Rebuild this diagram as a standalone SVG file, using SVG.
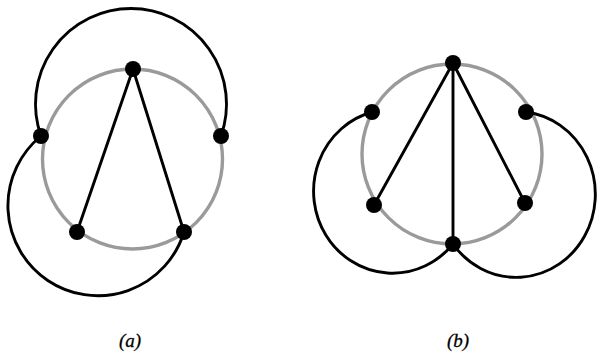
<svg xmlns="http://www.w3.org/2000/svg" width="600" height="359" viewBox="0 0 600 359">
<style>
.ring{fill:none;stroke:#9a9a9a;stroke-width:3.4}
.edge{fill:none;stroke:#000;stroke-width:2.9;stroke-linecap:round}
.node{fill:#000}
.lbl{font-family:"Liberation Serif",serif;font-style:italic;font-size:19px;fill:#000;text-anchor:middle;stroke:#000;stroke-width:0.3}
</style>
<rect width="600" height="359" fill="#fff"/>
<g id="diagram-a">
<circle class="ring" cx="132.5" cy="159" r="90"/>
<g id="connectors-a">
<path class="edge" d="M41,136 A95.5,95.5 0 1 1 221,136"/>
<path class="edge" d="M41,136 A90,90 0 1 0 184,232"/>
<line class="edge" x1="133" y1="69" x2="77" y2="232"/>
<line class="edge" x1="133" y1="69" x2="184" y2="232"/>
</g>
<g id="a-top"><circle class="node" cx="133" cy="69" r="8"/></g>
<g id="a-left"><circle class="node" cx="41" cy="136" r="8"/></g>
<g id="a-right"><circle class="node" cx="221" cy="136" r="8"/></g>
<g id="a-bl"><circle class="node" cx="77" cy="232" r="8"/></g>
<g id="a-br"><circle class="node" cx="184" cy="232" r="8"/></g>
<text class="lbl" x="130" y="347">(a)</text>
</g>
<g id="diagram-b">
<circle class="ring" cx="452" cy="154" r="90"/>
<g id="connectors-b">
<path class="edge" d="M372,112 A79,82 0 1 0 453,244"/>
<path class="edge" d="M526,112 A79,83 0 1 1 453,244"/>
<line class="edge" x1="453" y1="63" x2="374" y2="205"/>
<line class="edge" x1="453" y1="63" x2="453" y2="244"/>
<line class="edge" x1="453" y1="63" x2="525" y2="203"/>
</g>
<g id="b-top"><circle class="node" cx="453" cy="63" r="8"/></g>
<g id="b-left"><circle class="node" cx="372" cy="112" r="8"/></g>
<g id="b-right"><circle class="node" cx="526" cy="112" r="8"/></g>
<g id="b-bl"><circle class="node" cx="374" cy="205" r="8"/></g>
<g id="b-br"><circle class="node" cx="525" cy="203" r="8"/></g>
<g id="b-bottom"><circle class="node" cx="453" cy="244" r="8"/></g>
<text class="lbl" x="458" y="347">(b)</text>
</g>
</svg>
